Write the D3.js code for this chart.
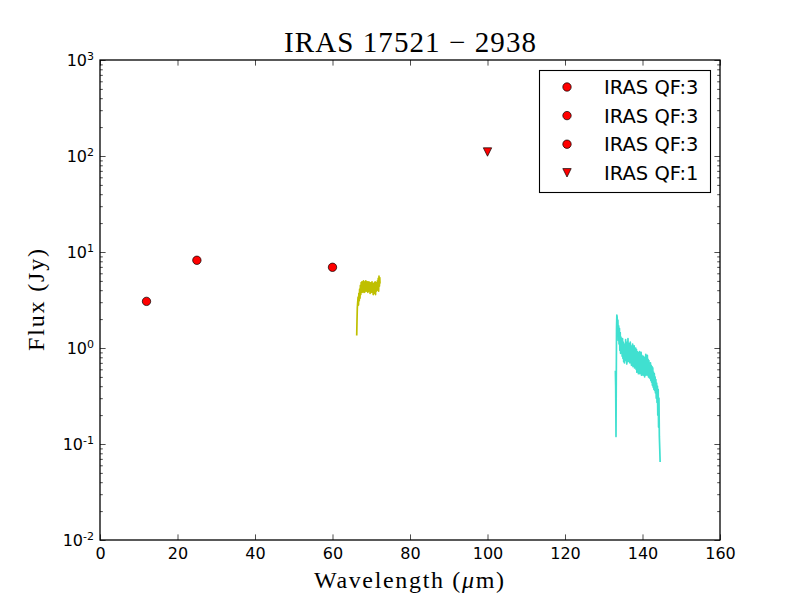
<!DOCTYPE html>
<html>
<head>
<meta charset="utf-8">
<script src="https://cdn.jsdelivr.net/npm/d3@7"></script>
<style>
  html, body { margin: 0; padding: 0; background: #fff; }
  svg { display: block; }
</style>
</head>
<body>
<svg id="chart" width="800" height="600"></svg>
<script>
// ---------------- data ----------------
const titleText = "IRAS 17521 \u2212 2938";
const xLabelText = "Wavelength (";
const yLabelText = "Flux (Jy)";

const xTicks = [0, 20, 40, 60, 80, 100, 120, 140, 160];
const yTickExponents = [-2, -1, 0, 1, 2, 3];

const photWave = [12, 25, 60];
const photFlux = [3.06, 8.2, 6.93];
const upperWave = [100];
const upperFlux = [110];

const legendLabels = ["IRAS QF:3", "IRAS QF:3", "IRAS QF:3", "IRAS QF:1"];
const legendMarkers = ["circle", "circle", "circle", "triangle"];

const spec1Wave = [66.25, 66.32, 66.40, 66.50, 66.60, 66.70, 66.80, 66.90, 67.00, 67.10,
  67.20, 67.30, 67.40, 67.50, 67.60, 67.70, 67.80, 67.90, 68.00, 68.10,
  68.20, 68.30, 68.40, 68.50, 68.60, 68.70, 68.80, 68.90, 69.00, 69.10,
  69.20, 69.30, 69.40, 69.50, 69.60, 69.70, 69.80, 69.90, 70.00, 70.10,
  70.20, 70.30, 70.40, 70.50, 70.60, 70.70, 70.80, 70.90, 71.00, 71.10,
  71.20, 71.30, 71.40, 71.50, 71.60, 71.70, 71.80, 71.90, 72.00, 72.10,
  72.20, 72.26];
const spec1Flux = [1.35, 1.90, 2.60, 3.00, 3.40, 2.80, 3.70, 3.10, 4.10, 3.30,
  4.50, 3.60, 4.80, 3.80, 4.90, 3.90, 4.70, 3.80, 5.00, 4.00,
  4.80, 3.80, 4.90, 4.00, 5.00, 3.90, 4.80, 4.00, 4.90, 3.80,
  4.70, 3.90, 4.90, 4.00, 4.80, 3.70, 4.70, 3.90, 4.80, 3.80,
  4.90, 3.90, 4.70, 3.60, 4.60, 3.70, 4.80, 3.80, 4.90, 3.60,
  4.50, 3.90, 4.80, 4.00, 5.00, 4.10, 5.30, 3.90, 5.60, 4.40,
  5.40, 4.70];

const spec2Wave = [133.00, 133.08, 133.16, 133.30, 133.38, 133.46, 133.55, 133.65, 133.75, 133.85,
  133.95, 134.05, 134.15, 134.25, 134.35, 134.45, 134.55, 134.65, 134.75, 134.85,
  134.95, 135.05, 135.15, 135.25, 135.35, 135.45, 135.55, 135.65, 135.75, 135.85,
  135.95, 136.05, 136.15, 136.25, 136.35, 136.45, 136.55, 136.65, 136.75, 136.85,
  136.95, 137.05, 137.15, 137.25, 137.35, 137.45, 137.55, 137.65, 137.75, 137.85,
  137.95, 138.05, 138.15, 138.25, 138.35, 138.45, 138.55, 138.65, 138.75, 138.85,
  138.95, 139.05, 139.15, 139.25, 139.35, 139.45, 139.55, 139.65, 139.75, 139.85,
  139.95, 140.05, 140.15, 140.25, 140.35, 140.45, 140.55, 140.65, 140.75, 140.85,
  140.95, 141.05, 141.15, 141.25, 141.35, 141.45, 141.55, 141.65, 141.75, 141.85,
  141.95, 142.05, 142.15, 142.25, 142.35, 142.45, 142.55, 142.65, 142.75, 142.85,
  142.95, 143.05, 143.15, 143.25, 143.35, 143.45, 143.55, 143.65, 143.75, 143.85,
  143.95, 144.05, 144.15, 144.25, 144.35, 144.45, 144.55];
const spec2Flux = [0.58, 0.40, 0.12, 1.60, 2.20, 2.10, 1.40, 1.95, 1.20, 1.70,
  1.10, 1.60, 0.95, 1.45, 0.88, 1.30, 0.90, 1.25, 0.82, 1.25,
  0.78, 1.15, 0.72, 1.10, 0.70, 1.05, 0.76, 1.22, 0.74, 1.15,
  0.68, 1.10, 0.72, 1.25, 0.76, 1.08, 0.72, 1.12, 0.70, 1.15,
  0.72, 1.02, 0.66, 1.05, 0.75, 1.10, 0.64, 1.00, 0.68, 1.05,
  0.62, 0.95, 0.66, 1.00, 0.60, 0.96, 0.56, 0.92, 0.58, 0.90,
  0.54, 0.88, 0.58, 0.92, 0.54, 0.85, 0.55, 0.90, 0.52, 0.84,
  0.55, 0.80, 0.52, 0.82, 0.54, 0.78, 0.50, 0.80, 0.52, 0.86,
  0.54, 0.82, 0.52, 0.84, 0.54, 0.76, 0.50, 0.74, 0.49, 0.70,
  0.48, 0.70, 0.46, 0.66, 0.44, 0.64, 0.41, 0.62, 0.39, 0.56,
  0.37, 0.54, 0.36, 0.50, 0.34, 0.47, 0.30, 0.43, 0.27, 0.40,
  0.20, 0.37, 0.15, 0.30, 0.12, 0.09, 0.065];

// ---------------- layout ----------------
const svg = d3.select("#chart");
const L = 100, R = 720, T = 60, B = 540;
const x = d3.scaleLinear().domain([0, 160]).range([L, R]);
const y = d3.scaleLog().domain([1e-2, 1e3]).range([B, T]);

const majorLen = 5.6, minorLen = 2.8, tickW = 0.7;
const yMajors = yTickExponents.map(e => Math.pow(10, e));
const yMinors = [];
yTickExponents.slice(0, -1).forEach(e => {
  for (let k = 2; k <= 9; k++) yMinors.push(k * Math.pow(10, e));
});

function styleAxis(g) {
  g.select(".domain").remove();
  g.selectAll(".tick line").attr("stroke", "#000").attr("stroke-width", tickW);
}

// x axes (bottom with labels, top without)
svg.append("g").attr("transform", `translate(0,${B})`)
  .call(d3.axisBottom(x).tickValues(xTicks).tickSizeInner(-majorLen).tickSizeOuter(0).tickPadding(8).tickFormat(d3.format("d")))
  .call(styleAxis)
  .call(g => g.selectAll("text").attr("font-family", "DejaVu Sans").attr("font-size", 16).attr("fill", "#000"));
svg.append("g").attr("transform", `translate(0,${T})`)
  .call(d3.axisTop(x).tickValues(xTicks).tickSizeInner(-majorLen).tickSizeOuter(0).tickFormat(""))
  .call(styleAxis);

// y axes left
const yLeft = svg.append("g").attr("transform", `translate(${L},0)`)
  .call(d3.axisLeft(y).tickValues(yMajors).tickSizeInner(-majorLen).tickSizeOuter(0).tickPadding(6).tickFormat(""))
  .call(styleAxis);
yLeft.selectAll(".tick text").each(function (d) {
  const t = d3.select(this).attr("font-family", "DejaVu Sans").attr("fill", "#000").attr("font-size", 16);
  const e = Math.round(Math.log10(d));
  t.text(null);
  t.append("tspan").text("10");
  t.append("tspan").attr("font-size", 11).attr("dy", "-0.55em").text(String(e));
});
svg.append("g").attr("transform", `translate(${L},0)`)
  .call(d3.axisLeft(y).tickValues(yMinors).tickSizeInner(-minorLen).tickSizeOuter(0).tickFormat(""))
  .call(styleAxis);
// y axes right
svg.append("g").attr("transform", `translate(${R},0)`)
  .call(d3.axisRight(y).tickValues(yMajors).tickSizeInner(-majorLen).tickSizeOuter(0).tickFormat(""))
  .call(styleAxis);
svg.append("g").attr("transform", `translate(${R},0)`)
  .call(d3.axisRight(y).tickValues(yMinors).tickSizeInner(-minorLen).tickSizeOuter(0).tickFormat(""))
  .call(styleAxis);

// ---------------- spectra ----------------
const line = d3.line().x(d => x(d[0])).y(d => y(d[1]));
svg.append("path")
  .datum(d3.zip(spec1Wave, spec1Flux))
  .attr("d", line).attr("fill", "none").attr("stroke", "#bfbf00").attr("stroke-width", 1.7)
  .attr("stroke-linejoin", "round");
svg.append("path")
  .datum(d3.zip(spec2Wave, spec2Flux))
  .attr("d", line).attr("fill", "none").attr("stroke", "#40e0d0").attr("stroke-width", 1.7)
  .attr("stroke-linejoin", "round");

// ---------------- photometry ----------------
const mr = 4.2;
const triPath = (cx, cy) => `M${cx - mr},${cy - mr}L${cx + mr},${cy - mr}L${cx},${cy + mr}Z`;
svg.append("g").selectAll("circle").data(d3.zip(photWave, photFlux)).join("circle")
  .attr("cx", d => x(d[0])).attr("cy", d => y(d[1])).attr("r", mr)
  .attr("fill", "#ff0000").attr("stroke", "#000").attr("stroke-width", 0.7);
svg.append("g").selectAll("path").data(d3.zip(upperWave, upperFlux)).join("path")
  .attr("d", d => triPath(x(d[0]), y(d[1])))
  .attr("fill", "#ff0000").attr("stroke", "#000").attr("stroke-width", 0.7);

// frame
svg.append("rect").attr("x", L).attr("y", T).attr("width", R - L).attr("height", B - T)
  .attr("fill", "none").attr("stroke", "#000").attr("stroke-width", 1.3);

// ---------------- legend ----------------
const lg = svg.append("g");
lg.append("rect").attr("x", 539.5).attr("y", 70.5).attr("width", 171).attr("height", 122)
  .attr("fill", "#fff").attr("stroke", "#000").attr("stroke-width", 1.1);
const rowY = i => 87 + i * 28.6;
legendLabels.forEach((lab, i) => {
  const cy = rowY(i), cx = 567;
  if (legendMarkers[i] === "circle") {
    lg.append("circle").attr("cx", cx).attr("cy", cy).attr("r", mr)
      .attr("fill", "#ff0000").attr("stroke", "#000").attr("stroke-width", 0.7);
  } else {
    lg.append("path").attr("d", triPath(cx, cy))
      .attr("fill", "#ff0000").attr("stroke", "#000").attr("stroke-width", 0.7);
  }
  lg.append("text").attr("x", 604).attr("y", cy).attr("dy", "0.36em")
    .attr("font-family", "DejaVu Sans").attr("font-size", 19.5).attr("fill", "#000").text(lab);
});

// ---------------- titles ----------------
svg.append("text").attr("x", 410).attr("y", 52).attr("text-anchor", "middle")
  .attr("font-family", "Liberation Serif").attr("font-size", 29)
  .attr("textLength", 252).attr("lengthAdjust", "spacing").text(titleText);

const xl = svg.append("text").attr("x", 409).attr("y", 588).attr("text-anchor", "middle")
  .attr("font-family", "Liberation Serif").attr("font-size", 24)
  .attr("textLength", 190).attr("lengthAdjust", "spacing");
xl.append("tspan").text(xLabelText);
xl.append("tspan").attr("font-style", "italic").text("\u03bc");
xl.append("tspan").text("m)");

svg.append("text").attr("transform", "translate(44,300) rotate(-90)").attr("text-anchor", "middle")
  .attr("font-family", "Liberation Serif").attr("font-size", 24)
  .attr("textLength", 102).attr("lengthAdjust", "spacing").text(yLabelText);
</script>
</body>
</html>
